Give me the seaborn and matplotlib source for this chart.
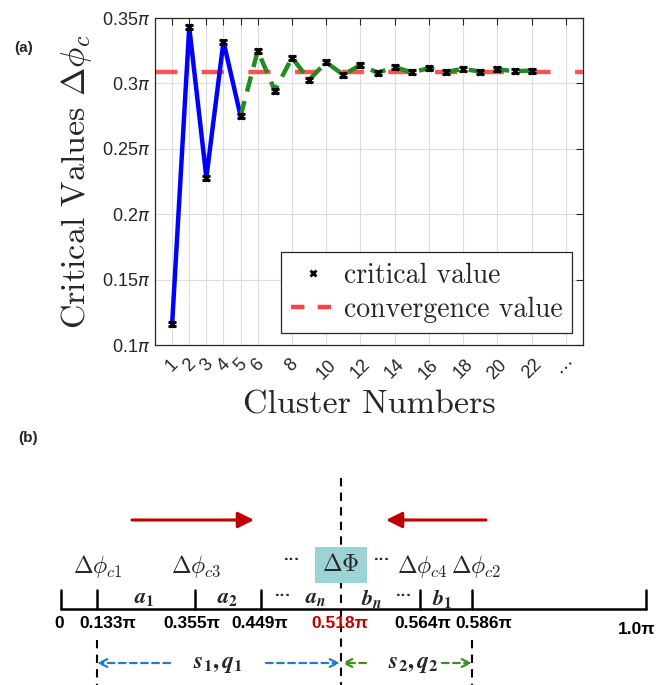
import numpy as np
import pandas as pd
import matplotlib
matplotlib.use("Agg")
import matplotlib.pyplot as plt
import seaborn as sns
from matplotlib.lines import Line2D

sns.set_style("white")
plt.rcParams["font.family"] = ["Liberation Sans", "DejaVu Sans"]
plt.rcParams["axes.unicode_minus"] = False

# ---------------- data (units of pi) ----------------
cluster_blue = [1, 2, 3, 4, 5]
critical_blue = [0.116, 0.343, 0.228, 0.332, 0.275]
cluster_green = [5, 6, 7, 8, 9, 10, 11, 12, 13, 14, 15, 16, 17, 18, 19, 20, 21, 22]
critical_green = [0.275, 0.325, 0.2945, 0.3197, 0.3027, 0.3162, 0.3065, 0.3141,
                  0.3082, 0.3124, 0.3085, 0.3116, 0.3088, 0.3111, 0.3090, 0.3108,
                  0.3093, 0.3098]
convergence_value = 0.309
xtick_vals = [1, 2, 3, 4, 5, 6, 8, 10, 12, 14, 16, 18, 20, 22, 24]
xtick_labels = ["1", "2", "3", "4", "5", "6", "8", "10", "12", "14", "16", "18", "20", "22", r"$\cdots$"]
ytick_vals = [0.1, 0.15, 0.2, 0.25, 0.3, 0.35]

# schematic (panel b)
line_ticks = [61, 97, 195, 261, 420, 472, 646]
num_labels = ["0", "0.133π", "0.355π", "0.449π", "0.518π", "0.564π", "0.586π", "1.0π"]
num_label_x = [59, 108, 192, 260, 340, 423, 484, 637]
phi_labels = [r"$\Delta\phi_{c1}$", r"$\Delta\phi_{c3}$", r"$\Delta\phi_{c4}$", r"$\Delta\phi_{c2}$"]
phi_label_x = [98, 196, 422, 476]
seg_labels = [r"$\mathbfit{a}_{\mathbf{1}}$", r"$\mathbfit{a}_{\mathbf{2}}$", r"$\mathbfit{a}_{\mathbfit{n}}$",
              r"$\mathbfit{b}_{\mathbfit{n}}$", r"$\mathbfit{b}_{\mathbf{1}}$"]
seg_label_x = [144, 228, 316, 372, 442]
center_x = 341

fig = plt.figure(figsize=(6.57, 6.85), dpi=100)

# ---------------- panel (b) : schematic (pixel-like coordinates) ----------------
axb = fig.add_axes([0, 0, 1, 1])
axb.set_xlim(0, 657)
axb.set_ylim(685, 0)
axb.set_axis_off()

axb.text(14, 48, "(a)", fontsize=11, fontweight="bold", va="center")
axb.text(18, 438, "(b)", fontsize=11, fontweight="bold", va="center")

red = "#C00000"
axb.annotate("", xy=(254, 520), xytext=(132, 520),
             arrowprops=dict(arrowstyle="-|>", color=red, lw=2.2, mutation_scale=24, shrinkA=0, shrinkB=0))
axb.annotate("", xy=(386, 520), xytext=(486, 520),
             arrowprops=dict(arrowstyle="-|>", color=red, lw=2.2, mutation_scale=24, shrinkA=0, shrinkB=0))

# center dashed line
axb.plot([center_x, center_x], [478, 685], color="black", lw=1.5, ls=(0, (4, 3)))
for xv in [line_ticks[1], line_ticks[5]]:
    axb.plot([xv, xv], [640, 685], color="black", lw=1.5, ls=(0, (4, 3)))

# number line
axb.plot([line_ticks[0], line_ticks[-1]], [609, 609], color="black", lw=1.8)
for xv in line_ticks:
    axb.plot([xv, xv], [590, 609], color="black", lw=1.8)

for lab, xv in zip(phi_labels, phi_label_x):
    axb.text(xv, 566, lab, fontsize=17, ha="center", va="center", math_fontfamily="cm")
axb.text(center_x, 565, r"$\Delta\Phi$", fontsize=17, ha="center", va="center", math_fontfamily="cm",
         bbox=dict(boxstyle="square,pad=0.3", fc="#9ED3D6", ec="none"))
for xv in [292, 382]:
    axb.text(xv, 560, "···", fontsize=12, fontweight="bold", ha="center", va="center")
for xv in [283, 404]:
    axb.text(xv, 596, "···", fontsize=12, fontweight="bold", ha="center", va="center")
for lab, xv in zip(seg_labels, seg_label_x):
    axb.text(xv, 598, lab, fontsize=16, ha="center", va="center", math_fontfamily="stix")

for lab, xv in zip(num_labels, num_label_x):
    col = red if lab == "0.518π" else "black"
    yy = 630 if lab == "1.0π" else 623
    axb.text(xv, yy, lab, fontsize=12.5, fontweight="bold", ha="center", va="center", color=col)

blue_c = "#1F7DCB"
green_c = "#3A8F1E"
arr_kw = dict(arrowstyle="->", lw=1.6, ls=(0, (3, 2)), mutation_scale=14, shrinkA=0, shrinkB=0)
axb.annotate("", xy=(97, 663), xytext=(170, 663), arrowprops=dict(color=blue_c, **arr_kw))
axb.annotate("", xy=(center_x - 1, 663), xytext=(266, 663), arrowprops=dict(color=blue_c, **arr_kw))
axb.annotate("", xy=(center_x + 1, 663), xytext=(366, 663), arrowprops=dict(color=green_c, **arr_kw))
axb.annotate("", xy=(472, 663), xytext=(442, 663), arrowprops=dict(color=green_c, **arr_kw))
axb.text(218, 664, r"$\mathbfit{s}_{\mathbf{1}}\mathbf{,}\,\mathbfit{q}_{\mathbf{1}}$", fontsize=17,
         ha="center", va="center", math_fontfamily="stix")
axb.text(413, 664, r"$\mathbfit{s}_{\mathbf{2}}\mathbf{,}\,\mathbfit{q}_{\mathbf{2}}$", fontsize=17,
         ha="center", va="center", math_fontfamily="stix")

# ---------------- panel (a) ----------------
ax = fig.add_axes([155 / 657, 1 - 345 / 685, 428 / 657, 327 / 685])
df_b = pd.DataFrame({"n": cluster_blue, "v": critical_blue})
df_g = pd.DataFrame({"n": cluster_green, "v": critical_green})

ax.axhline(convergence_value, color="#FF4040", alpha=0.9, lw=3.2, ls=(0, (5, 5.5)), zorder=2)
sns.lineplot(data=df_b, x="n", y="v", ax=ax, color="#0000FF", lw=3.2, zorder=3)
sns.lineplot(data=df_g, x="n", y="v", ax=ax, color="#228B22", lw=3.2, zorder=3)
ax.lines[-1].set_linestyle((0, (3.5, 2.2)))
all_n = cluster_blue + cluster_green[1:]
all_v = critical_blue + critical_green[1:]
ax.errorbar(all_n, all_v, yerr=0.0015, fmt="x", color="black", ms=5, mew=2,
            elinewidth=1, capsize=3, capthick=1.5, zorder=4)

ax.set_xlim(0, 25)
ax.set_ylim(0.1, 0.35)
ax.set_xticks(xtick_vals)
ax.set_xticklabels(xtick_labels, rotation=45, ha="center", fontsize=13)
ax.set_yticks(ytick_vals)
ax.set_yticklabels([f"{v:g}" + r"$\pi$" for v in ytick_vals], fontsize=13)
ax.tick_params(direction="in", length=5, top=True, right=True, width=0.8, colors="#262626")
ax.tick_params(axis="x", pad=8)
ax.grid(True, color="#DDDDDD", lw=0.8)
for s in ax.spines.values():
    s.set_color("#262626")
    s.set_linewidth(0.9)

ax.set_xlabel("Cluster Numbers", fontsize=24.5, family="cmr10", color="#262626", labelpad=6)
ax.set_ylabel(r"Critical Values $\Delta\phi_c$", fontsize=24.5, family="cmr10",
              math_fontfamily="cm", color="#262626", labelpad=6)

handles = [Line2D([], [], ls="none", marker="x", color="black", ms=5, mew=2),
           Line2D([], [], color="#FF4040", lw=3.2, ls=(0, (3, 3)))]
leg = ax.legend(handles, ["critical value", "convergence value"], loc="lower right",
                bbox_to_anchor=(0.974, 0.037), borderaxespad=0, fancybox=False,
                framealpha=1, edgecolor="#262626", prop={"family": "cmr10", "size": 20},
                handlelength=1.6, handletextpad=0.3, borderpad=0.35, labelspacing=0.3)
leg.get_frame().set_linewidth(0.9)

fig.savefig("out.png", dpi=100)
